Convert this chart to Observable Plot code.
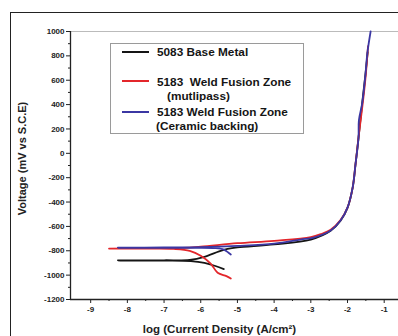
<!DOCTYPE html>
<html><head><meta charset="utf-8">
<script src="https://cdn.jsdelivr.net/npm/d3@7"></script>
<script src="https://cdn.jsdelivr.net/npm/@observablehq/plot@0.6"></script>
<style>
body{margin:0;background:#fff;}
#wrap{position:relative;width:398px;height:336px;overflow:hidden;font-family:"Liberation Sans",Arial,sans-serif;}
#border{position:absolute;left:10px;top:12px;width:500px;height:500px;border-left:1.5px solid #222;border-top:1.5px solid #222;pointer-events:none;}
#legend{position:absolute;left:110px;top:43px;width:194px;height:91px;border:1px solid #9a9a9a;box-sizing:border-box;background:#fff;font-weight:bold;font-size:11.8px;color:#151515;}
#legend .row{position:absolute;white-space:pre;line-height:12px;}
#legend .ln{position:absolute;height:2px;}
</style></head><body><div id="wrap"></div>
<script>
const series = ["5083 Base Metal", "5183  Weld Fusion Zone", "5183 Weld Fusion Zone"];
const seriesNotes = ["", "(mutlipass)", "(Ceramic backing)"];
const colors = ["#151515", "#e3262b", "#3b37a3"];

// log(current density) and potential (mV vs SCE)
const baseX = [-5.37, -5.6, -5.9, -6.27, -7.0, -8.26, -7.0, -6.3, -5.9, -5.5, -5.27, -5.0, -4.0, -3.0, -2.46, -2.19, -2.0, -1.86, -1.78, -1.7, -1.6, -1.51, -1.45];
const baseY = [-950, -925, -900, -885, -881, -880, -878, -875, -850, -805, -785, -772, -748, -708, -636, -554, -448, -284, -87, 126, 410, 650, 830];

const multiX = [-5.18, -5.3, -5.54, -5.73, -6.0, -6.3, -6.74, -7.5, -8.5, -7.5, -6.5, -6.0, -5.0, -4.0, -3.0, -2.7, -2.46, -2.19, -2.0, -1.86, -1.78, -1.7, -1.63, -1.55, -1.5, -1.44];
const multiY = [-1028, -1008, -980, -905, -840, -800, -785, -783, -782, -780, -776, -766, -738, -718, -688, -660, -628, -548, -446, -282, -85, 128, 300, 500, 650, 880];

const ceramX = [-5.18, -5.25, -5.37, -5.6, -6.5, -8.26, -7.0, -6.0, -5.0, -4.0, -3.28, -2.92, -2.46, -2.19, -2.0, -1.86, -1.78, -1.7, -1.69, -1.6, -1.51, -1.46, -1.37];
const ceramY = [-830, -815, -790, -778, -776, -775, -773, -770, -760, -742, -708, -692, -634, -552, -446, -282, -85, 128, 270, 410, 650, 820, 1000];

const xMajorTicks = [-9, -8, -7, -6, -5, -4, -3, -2, -1];
const xMinorTicks = [-8.5, -7.5, -6.5, -5.5, -4.5, -3.5, -2.5, -1.5, -0.5];
const yMajorTicks = [-1200, -1000, -800, -600, -400, -200, 0, 200, 400, 600, 800, 1000];
const yMinorTicks = [-1100, -900, -700, -500, -300, -100, 100, 300, 500, 700, 900];
const xDomain = [-9.55, -0.61];
const yDomain = [-1200, 1000];
const xLabel = "log (Current Density (A/cm²)";
const yLabel = "Voltage (mV vs S.C.E)";

const toRows = (xs, ys, s) => xs.map((x, i) => ({x, y: ys[i], s}));
const rows = [
  ...toRows(baseX, baseY, series[0]),
  ...toRows(multiX, multiY, series[1]),
  ...toRows(ceramX, ceramY, series[2])
];

const chart = Plot.plot({
  width: 398, height: 336,
  marginLeft: 70, marginRight: 0, marginTop: 31, marginBottom: 37,
  style: {fontFamily: "'Liberation Sans', Arial, sans-serif", fontSize: "8px", fontWeight: "bold", background: "transparent", color: "#222"},
  x: {domain: xDomain},
  y: {domain: yDomain},
  color: {domain: series, range: colors},
  marks: [
    Plot.ruleY([yDomain[1]], {stroke: "#bbb", strokeWidth: 1}),
    Plot.axisY({ticks: yMajorTicks, tickSize: 4, tickPadding: 2, tickFormat: d => String(d), label: null}),
    Plot.axisY({ticks: yMinorTicks, tickSize: 2, text: null, label: null}),
    Plot.axisX({ticks: xMajorTicks, tickSize: 4, tickPadding: 3, tickFormat: d => String(d), label: null}),
    Plot.axisX({ticks: xMinorTicks, tickSize: 2, text: null, label: null}),
    Plot.ruleX([xDomain[0]], {stroke: "#222", strokeWidth: 1.3}),
    Plot.ruleY([yDomain[0]], {stroke: "#222", strokeWidth: 1.3}),
    Plot.line(rows, {x: "x", y: "y", z: "s", stroke: "s", strokeWidth: 1.8, curve: "catmull-rom"}),
    Plot.text([xLabel], {text: d => d, frameAnchor: "bottom", dy: 33, dx: -15, fontSize: 11.5, fontWeight: "bold", fill: "#222"}),
    Plot.text([yLabel], {text: d => d, frameAnchor: "left", rotate: -90, dx: -48, dy: -7, textAnchor: "middle", lineAnchor: "middle", fontSize: 11, fontWeight: "bold", fill: "#222"})
  ]
});
const wrap = document.getElementById("wrap");
wrap.append(chart);

const border = document.createElement("div");
border.id = "border";
wrap.append(border);

const legend = document.createElement("div");
legend.id = "legend";
const rowTops = [2, 32, 62];
const lineTops = [7, 36, 67];
const noteLeft = [0, 56, 45];
series.forEach((s, i) => {
  const ln = document.createElement("div");
  ln.className = "ln";
  ln.style.left = "11px"; ln.style.width = "27px";
  ln.style.top = lineTops[i] + "px";
  ln.style.background = colors[i];
  legend.append(ln);
  const t = document.createElement("div");
  t.className = "row";
  t.style.left = "46px"; t.style.top = rowTops[i] + "px";
  t.textContent = s;
  legend.append(t);
  if (seriesNotes[i]) {
    const n = document.createElement("div");
    n.className = "row";
    n.style.left = noteLeft[i] + "px"; n.style.top = (rowTops[i] + 14) + "px";
    n.textContent = seriesNotes[i];
    legend.append(n);
  }
});
wrap.append(legend);
</script>
</body></html>
